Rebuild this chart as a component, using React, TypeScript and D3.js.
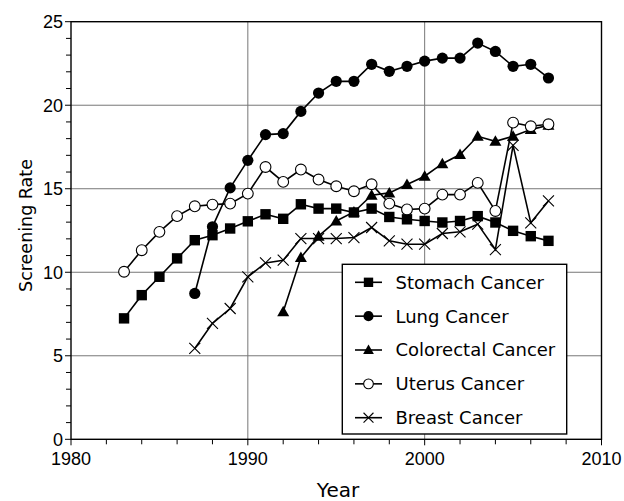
import React from 'react';
import * as d3 from 'd3';

const years = d3.range(1983, 2008);

const stomach = [7.24, 8.63, 9.73, 10.83, 11.92, 12.22, 12.62, 13.05, 13.47, 13.2, 14.07, 13.81, 13.81, 13.58, 13.81, 13.31, 13.17, 13.07, 12.98, 13.07, 13.36, 12.98, 12.48, 12.16, 11.88];
const lung = [null, null, null, null, 8.73, 12.72, 15.05, 16.7, 18.24, 18.3, 19.63, 20.73, 21.43, 21.43, 22.45, 22.03, 22.33, 22.64, 22.82, 22.82, 23.72, 23.22, 22.33, 22.45, 21.63];
const colorectal = [null, null, null, null, null, null, null, null, null, 7.63, 10.88, 12.16, 13.07, 13.61, 14.61, 14.75, 15.25, 15.75, 16.5, 17.05, 18.14, 17.84, 18.14, 18.54, 18.8];
const uterus = [10.03, 11.32, 12.42, 13.36, 13.95, 14.05, 14.11, 14.71, 16.3, 15.41, 16.15, 15.55, 15.15, 14.85, 15.27, 14.11, 13.76, 13.81, 14.65, 14.65, 15.35, 13.67, 18.96, 18.74, 18.86];
const breast = [null, null, null, null, 5.44, 6.94, 7.83, 9.73, 10.56, 10.72, 12.02, 12.02, 12.02, 12.08, 12.68, 11.88, 11.68, 11.68, 12.32, 12.42, 12.88, 11.36, 17.6, 12.96, 14.27];

const seriesNames = ['Stomach Cancer', 'Lung Cancer', 'Colorectal Cancer', 'Uterus Cancer', 'Breast Cancer'];
const seriesValues = [stomach, lung, colorectal, uterus, breast];
const markers = ['square', 'circle', 'triangle', 'open', 'cross'];

const xTicks = [1980, 1990, 2000, 2010];
const yTicks = [0, 5, 10, 15, 20, 25];

const textFont = '"DejaVu Sans", sans-serif';
const numFont = '"Liberation Sans", Arial, sans-serif';

function Marker({ kind, x, y, s = 1 }: { kind: string; x: number; y: number; s?: number }) {
  if (kind === 'square') {
    const h = 5.2 * s;
    return <rect x={x - h} y={y - h} width={2 * h} height={2 * h} fill="#000" />;
  }
  if (kind === 'circle') return <circle cx={x} cy={y} r={5.6 * s} fill="#000" />;
  if (kind === 'open') return <circle cx={x} cy={y} r={5.4 * s} fill="#fff" stroke="#000" strokeWidth={1.1} />;
  if (kind === 'triangle') {
    const h = 6 * s;
    return <path d={`M${x},${y - h}L${x + h},${y + h * 0.75}L${x - h},${y + h * 0.75}Z`} fill="#000" />;
  }
  const h = 5.5 * s;
  return <path d={`M${x - h},${y - h}L${x + h},${y + h}M${x - h},${y + h}L${x + h},${y - h}`} stroke="#000" strokeWidth={1.1} fill="none" />;
}

export default function App() {
  const width = 624;
  const height = 501;
  const x = d3.scaleLinear().domain([1980, 2010]).range([71, 601.5]);
  const y = d3.scaleLinear().domain([0, 25]).range([439.3, 21.7]);

  const line = d3.line<[number, number | null]>()
    .defined(d => d[1] != null)
    .x(d => x(d[0]))
    .y(d => y(d[1] as number));

  const minorX = d3.range(1980, 2011, 2);
  const minorY = d3.range(0, 26, 1);

  return (
    <svg width={width} height={height} style={{ position: 'absolute', left: 0, top: 0 }}>
      <rect width={width} height={height} fill="#fff" />
      {/* grid */}
      {xTicks.slice(1, -1).map(t => (
        <line key={'gx' + t} x1={x(t)} x2={x(t)} y1={y(25)} y2={y(0)} stroke="#777" strokeWidth={1} />
      ))}
      {yTicks.slice(1, -1).map(t => (
        <line key={'gy' + t} x1={x(1980)} x2={x(2010)} y1={y(t)} y2={y(t)} stroke="#777" strokeWidth={1} />
      ))}
      {/* ticks */}
      {minorX.map(t => (
        <line key={'mx' + t} x1={x(t)} x2={x(t)} y1={y(0)} y2={y(0) + (t % 10 === 0 ? 6 : 5)} stroke="#000" strokeWidth={1} />
      ))}
      {minorY.map(t => (
        <line key={'my' + t} x1={x(1980) - (t % 5 === 0 ? 6 : 5)} x2={x(1980)} y1={y(t)} y2={y(t)} stroke="#000" strokeWidth={1} />
      ))}
      {/* series */}
      {seriesValues.map((vals, i) => {
        const pts = years.map((yr, j) => [yr, vals[j]] as [number, number | null]);
        return (
          <g key={seriesNames[i]}>
            <path d={line(pts) || ''} fill="none" stroke="#000" strokeWidth={1.6} />
            {pts.filter(p => p[1] != null).map(p => (
              <Marker key={p[0]} kind={markers[i]} x={x(p[0])} y={y(p[1] as number)} />
            ))}
          </g>
        );
      })}
      {/* frame */}
      <rect x={x(1980)} y={y(25)} width={x(2010) - x(1980)} height={y(0) - y(25)} fill="none" stroke="#000" strokeWidth={1.4} />
      {/* tick labels */}
      {xTicks.map(t => (
        <text key={'xl' + t} x={x(t)} y={465} textAnchor="middle" fontFamily={numFont} fontSize={18}>{t}</text>
      ))}
      {yTicks.map(t => (
        <text key={'yl' + t} x={x(1980) - 8} y={y(t)} dy="0.36em" textAnchor="end" fontFamily={numFont} fontSize={18}>{t}</text>
      ))}
      <text x={338} y={497} textAnchor="middle" fontFamily={textFont} fontSize={20}>Year</text>
      <text transform={`translate(32,${y(12.8)}) rotate(-90)`} textAnchor="middle" fontFamily={textFont} fontSize={17.5}>Screening Rate</text>
      {/* legend */}
      <g>
        <rect x={342.3} y={264.3} width={224.4} height={169.7} fill="#fff" stroke="#000" strokeWidth={1.4} />
        {seriesNames.map((name, i) => {
          const ly = 282.3 + i * 33.85;
          return (
            <g key={'lg' + name}>
              <line x1={355} x2={382} y1={ly} y2={ly} stroke="#000" strokeWidth={1.6} />
              <Marker kind={markers[i]} x={368.5} y={ly} s={0.9} />
              <text x={395.5} y={ly} dy="0.36em" fontFamily={textFont} fontSize={18}>{name}</text>
            </g>
          );
        })}
      </g>
    </svg>
  );
}
